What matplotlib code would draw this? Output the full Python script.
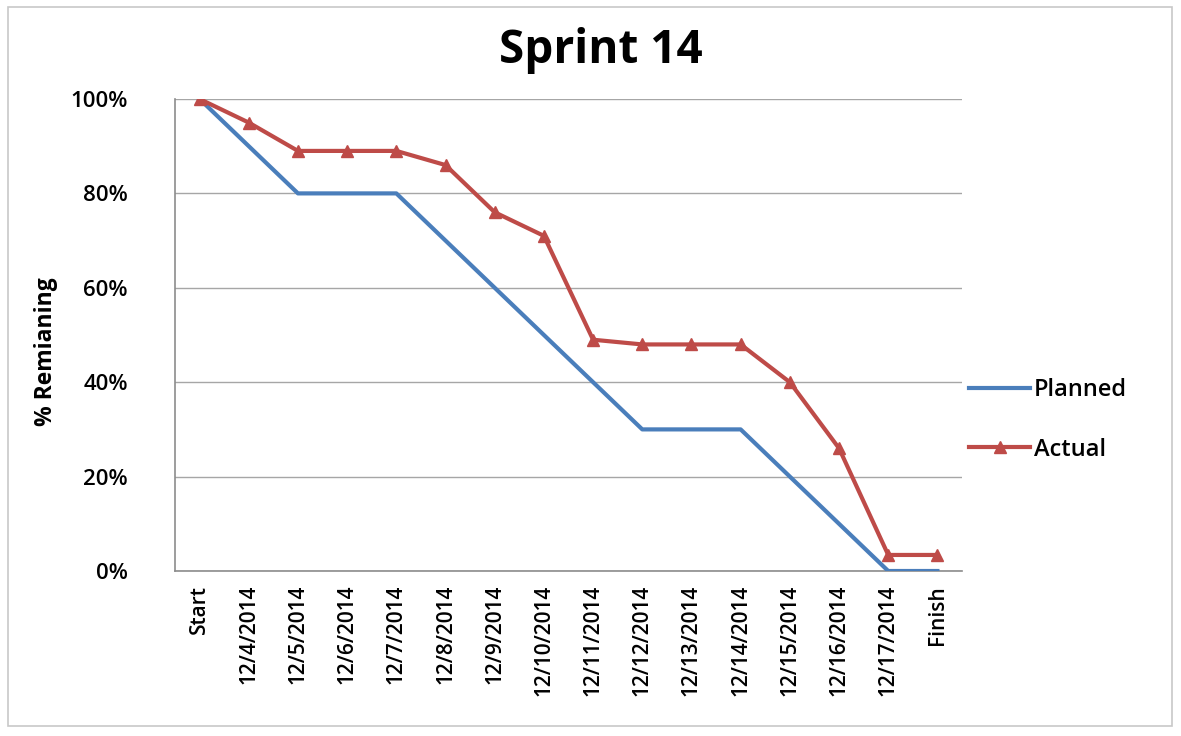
import matplotlib
import numpy as np

matplotlib.use("Agg")
import matplotlib.pyplot as plt
from matplotlib.patches import Rectangle
from matplotlib.ticker import PercentFormatter

# data
categories = [
    "Start", "12/4/2014", "12/5/2014", "12/6/2014", "12/7/2014", "12/8/2014",
    "12/9/2014", "12/10/2014", "12/11/2014", "12/12/2014", "12/13/2014",
    "12/14/2014", "12/15/2014", "12/16/2014", "12/17/2014", "Finish",
]
planned = [100, 90, 80, 80, 80, 70, 60, 50, 40, 30, 30, 30, 20, 10, 0, 0]
actual = [100, 95, 89, 89, 89, 86, 76, 71, 49, 48, 48, 48, 40, 26, 3.4, 3.4]
y_ticks = [0, 20, 40, 60, 80, 100]

BLUE = "#4a7ebb"
RED = "#be4b48"
GRID = "#a6a6a6"

plt.rcParams["font.family"] = ["Open Sans", "DejaVu Sans"]

fig = plt.figure(figsize=(11.81, 7.36), dpi=100)
fig.patches.append(
    Rectangle((8 / 1181, 10 / 736), 1164 / 1181, 719 / 736, transform=fig.transFigure,
              fill=False, edgecolor="#c8c8c8", linewidth=1.2)
)
ax = fig.add_axes([175 / 1181, 165 / 736, 787 / 1181, 472 / 736])

x = np.arange(len(categories))
ax.plot(x, planned, color=BLUE, linewidth=3, label="Planned", zorder=3)
ax.plot(x, actual, color=RED, linewidth=3, marker="^", markersize=9,
        label="Actual", zorder=4)

ax.set_xlim(-0.5, len(categories) - 0.5)
ax.set_ylim(0, 100)
ax.set_yticks(y_ticks)
ax.yaxis.set_major_formatter(PercentFormatter(decimals=0))
ax.set_xticks(x)
ax.set_xticklabels(categories, rotation=90, fontsize=15, fontweight="semibold")
for lbl in ax.get_yticklabels():
    lbl.set_fontsize(16)
    lbl.set_fontweight("semibold")
ax.tick_params(axis="both", length=0)
ax.tick_params(axis="x", pad=10)
ax.tick_params(axis="y", pad=34)

ax.grid(axis="y", color=GRID, linewidth=1)
ax.set_axisbelow(True)
for side in ("top", "right"):
    ax.spines[side].set_visible(False)
for side in ("left", "bottom"):
    ax.spines[side].set_color("#8c8c8c")
    ax.spines[side].set_linewidth(1.2)

ax.set_ylabel("% Remianing", fontsize=16.5, fontweight="bold")
ax.yaxis.set_label_coords(-117 / 787, 0.465)
fig.text(601 / 1181, 1 - 51 / 736, "Sprint 14", ha="center", va="center",
         fontsize=33, fontweight="bold")

ax.legend(loc="center left", bbox_to_anchor=(0.982, 0.32), frameon=False,
          handlelength=2.6, handletextpad=0.15, labelspacing=1.5,
          prop={"weight": "semibold", "size": 17})

fig.savefig("out.png", dpi=100)
